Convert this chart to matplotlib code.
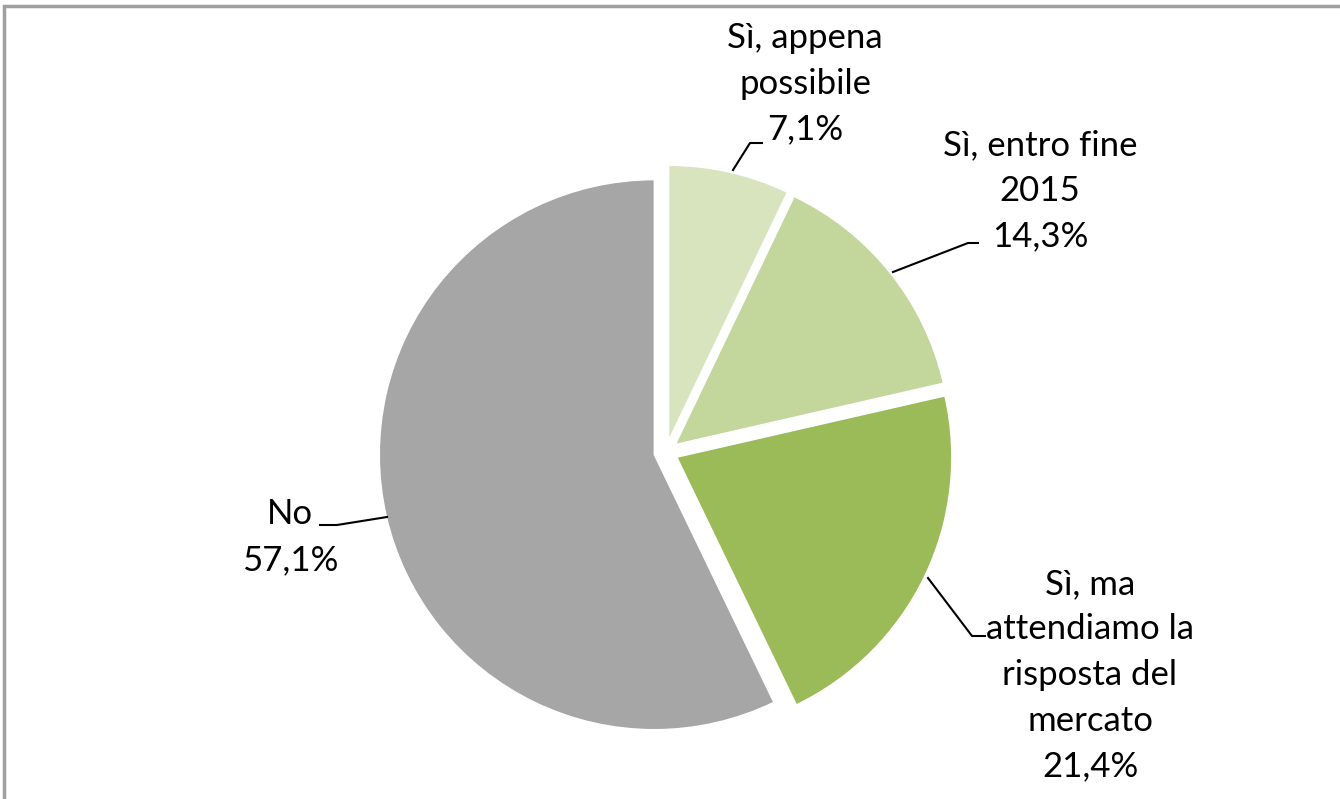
import numpy as np
import matplotlib
matplotlib.use("Agg")
import matplotlib.pyplot as plt
from matplotlib.patches import Rectangle

# data
labels = ["Sì, appena\npossibile", "Sì, entro fine\n2015",
          "Sì, ma\nattendiamo la\nrisposta del\nmercato", "No"]
values = [7.1, 14.3, 21.4, 57.1]
colors = ["#D7E4BD", "#C3D69B", "#9BBB59", "#A6A6A6"]
explode_px = [12, 12, 12, 12]

plt.rcParams['font.family'] = ['Lato', 'DejaVu Sans']

W, H = 1340, 799
fig = plt.figure(figsize=(W / 100, H / 100), dpi=100)
ax = fig.add_axes([0, 0, 1, 1])

cx, cy, R = 666, H - 452, 275
# matplotlib's explode is in data units (pixels here)
ax.pie(values, colors=colors, startangle=90, counterclock=False,
       center=(cx, cy), radius=R, explode=explode_px,
       wedgeprops=dict(edgecolor="white", linewidth=1), frame=True)
ax.set_xlim(0, W)
ax.set_ylim(0, H)
ax.axis("off")

# label text positions (pixels from top-left) and leader lines
text_pos = [(805, 84), (1040, 191), (1090, 675), (290, 537)]
leaders = [[(733, 170), (750, 143), (762, 143)],
           [(893, 272), (968, 243), (978, 243)],
           [(928, 578), (972, 636), (985, 636)],
           [(387, 517), (337, 525), (320, 525)]]

for lab, v, (tx, ty), pts in zip(labels, values, text_pos, leaders):
    s = lab + "\n" + f"{v:.1f}".replace(".", ",") + "%"
    ax.text(tx, H - ty, s, ha="center", va="center", fontsize=25,
            linespacing=1.52, color="black")
    xs = [p[0] for p in pts]
    ys = [H - p[1] for p in pts]
    ax.plot(xs, ys, color="black", lw=1.5)

# chart border (top and left visible)
fig.patches.append(Rectangle((4 / W, -0.1), 1.2, (H - 6) / H + 0.1,
                             transform=fig.transFigure, fill=False,
                             edgecolor="#A0A0A0", lw=2.5))

fig.savefig("out.png", dpi=100)
